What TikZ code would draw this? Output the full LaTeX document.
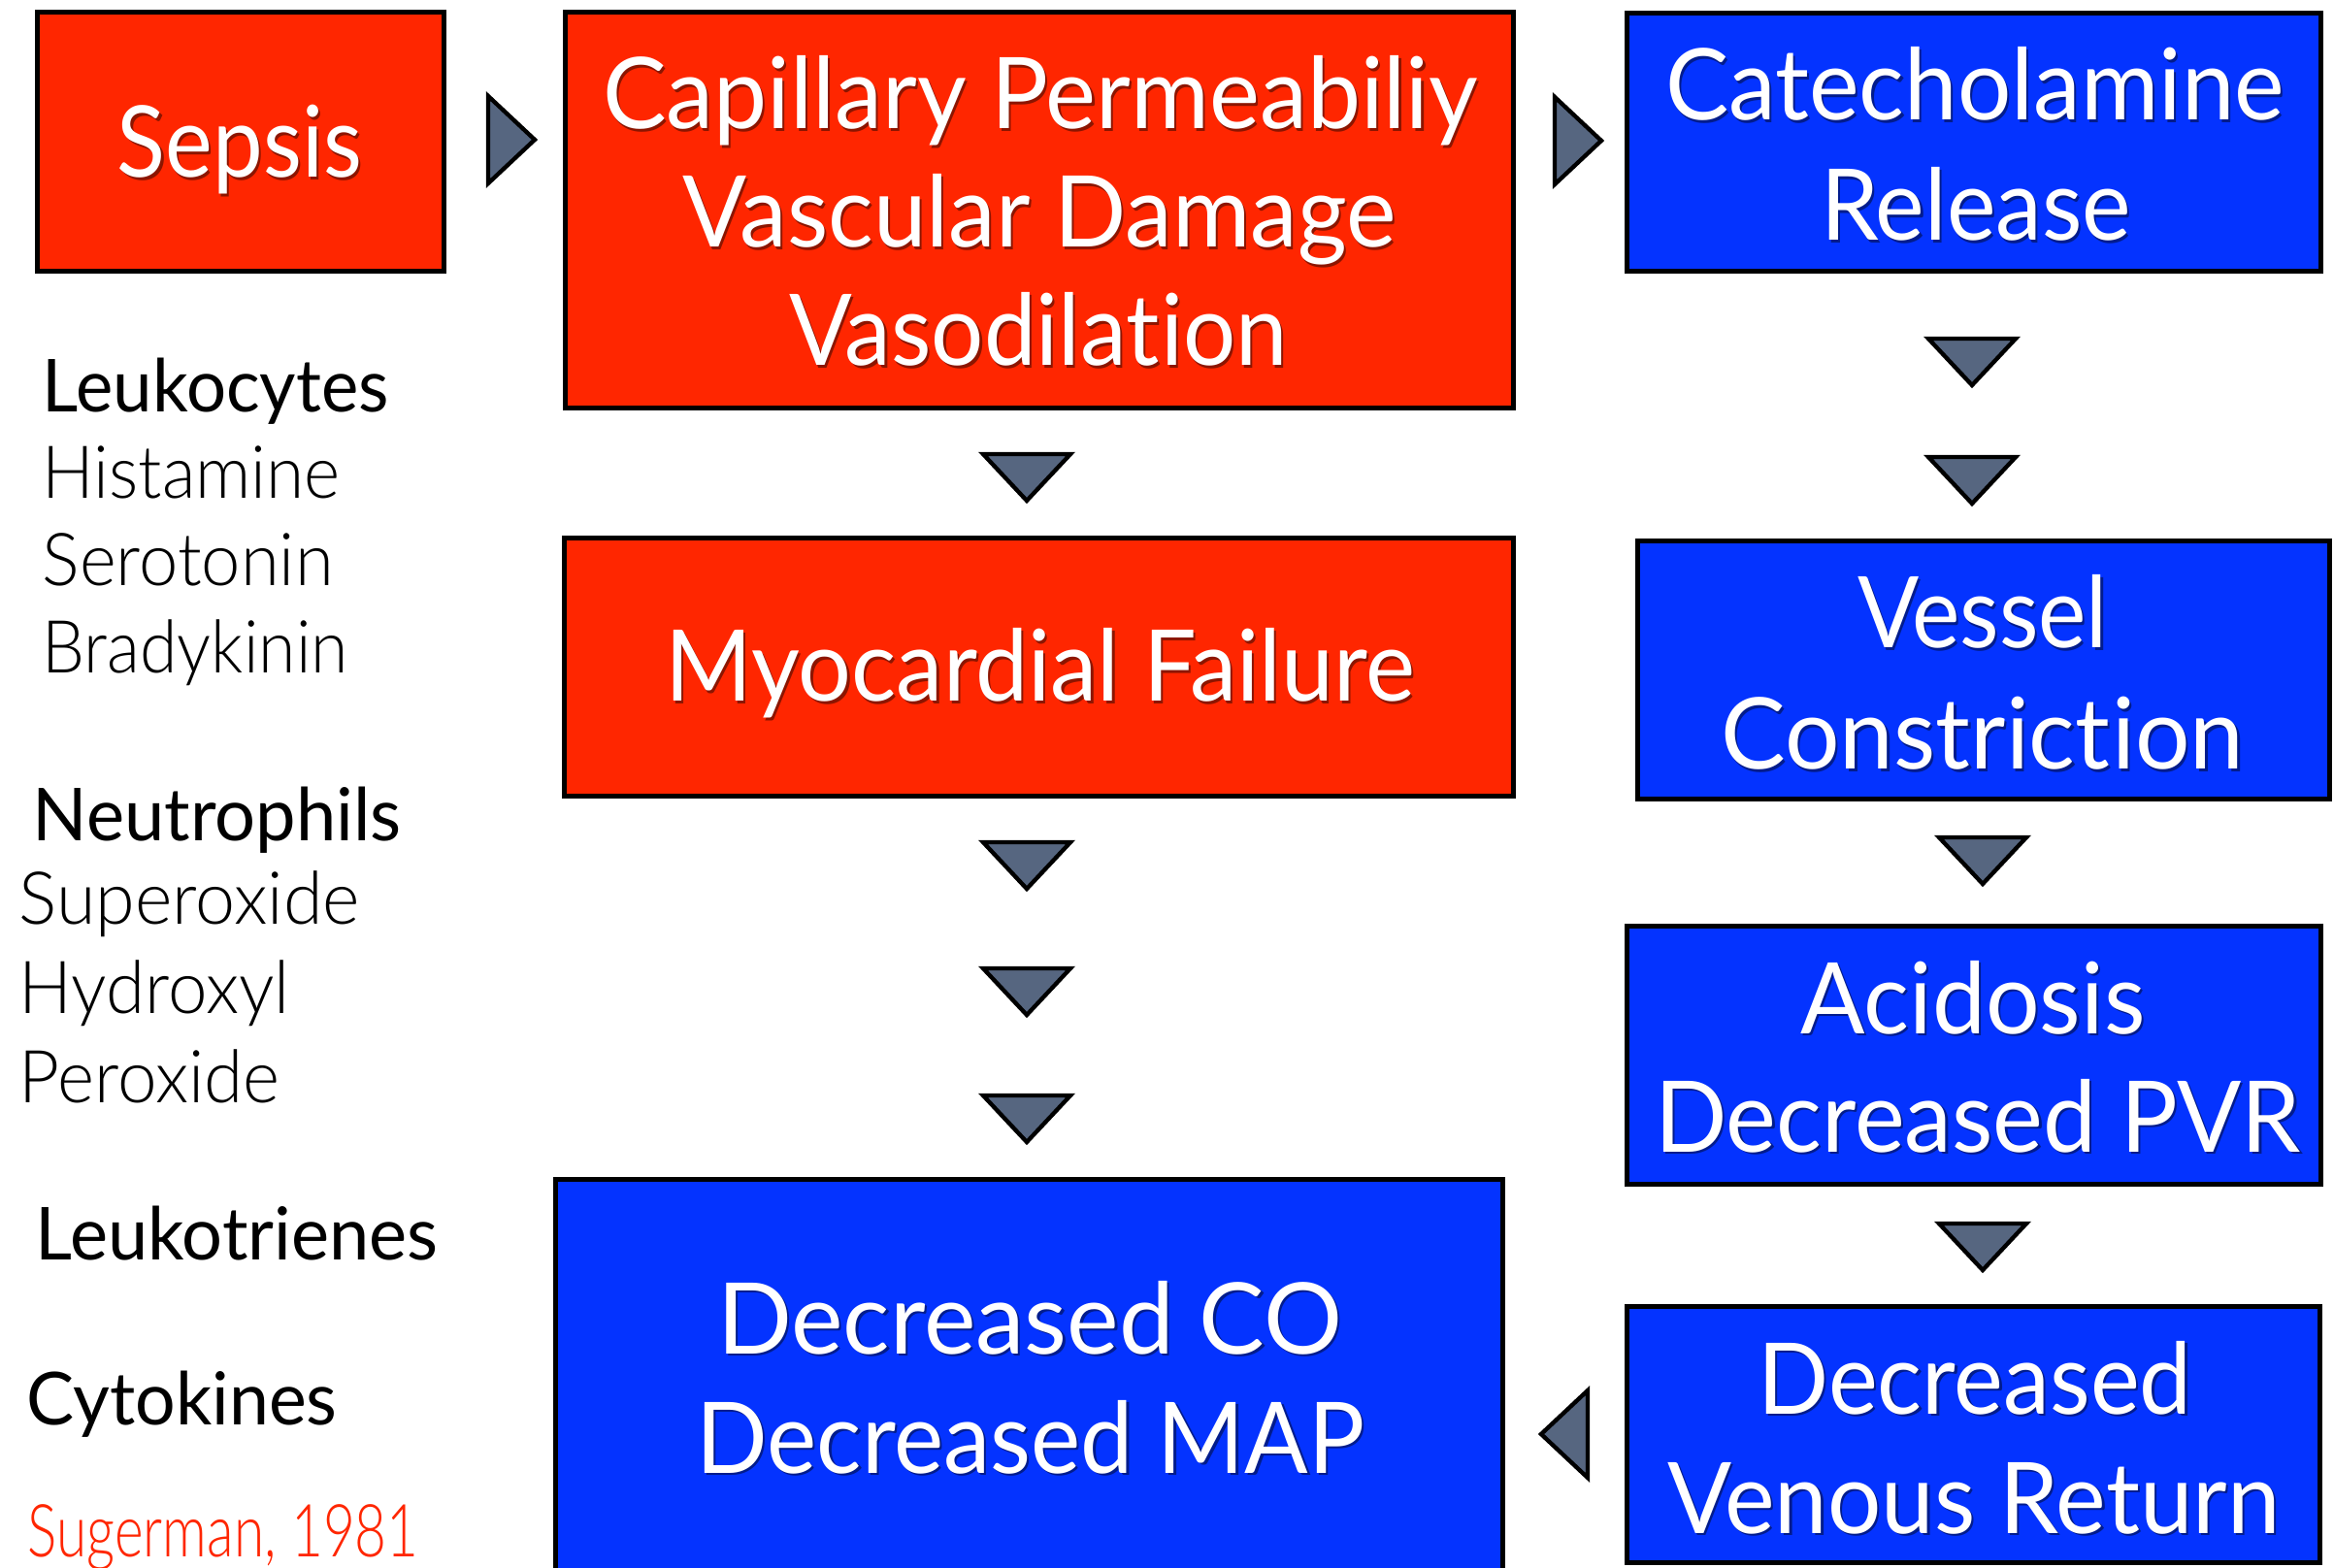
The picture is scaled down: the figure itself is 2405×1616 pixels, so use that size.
\documentclass[tikz,border=0pt]{standalone}
\usepackage{fontspec}
\usepackage{graphicx}
\usetikzlibrary{fit}
\setmainfont{Lato}[Ligatures=NoCommon, RawFeature={-calt}]
\IfFontExistsTF{Lato Light}{\newfontfamily\lightfont{Lato Light}[Ligatures=NoCommon, RawFeature={-calt}]}{\newfontfamily\lightfont{Lato}[Ligatures=NoCommon, RawFeature={-calt}]}

\definecolor{boxred}{RGB}{255,38,0}
\definecolor{boxblue}{RGB}{4,51,255}
\definecolor{arrowfill}{RGB}{86,102,128}
\colorlet{redshade}{boxred!55!black}
\colorlet{blueshade}{boxblue!55!black}

% one line of box text, set to a given width (in px, 1px = 0.3pt) with a soft drop shadow
\newcommand\fitline[3]{%
  \resizebox{\dimexpr #1pt*3/10\relax}{\height}{%
    \rlap{\kern0.7pt\raisebox{-0.7pt}{\textcolor{#2}{#3}}}#3}}
% one plain line of text set to a given width
\newcommand\fitplain[2]{\resizebox{\dimexpr #1pt*3/10\relax}{\height}{#2}}
% plain t-i pair, kept apart from the font's ligature
\newcommand\ti{t\kern0.02em i}

\tikzset{
  box/.style={draw=black, line width=1.5pt, inner sep=0pt, outer sep=0pt},
  redbox/.style={box, fill=boxred},
  bluebox/.style={box, fill=boxblue},
  bigtxt/.style={anchor=base, inner sep=0pt, text=white,
    font=\fontsize{30.6pt}{36pt}\selectfont},
  headtxt/.style={anchor=base west, inner sep=0pt, text=black,
    font=\fontsize{22.6pt}{27pt}\selectfont},
  listtxt/.style={anchor=base west, inner sep=0pt, text=black,
    font=\lightfont\fontsize{22.6pt}{27pt}\selectfont},
  arrowtri/.style={draw=black, line width=1.3pt, fill=arrowfill, line join=miter},
  pics/downtri/.style={code={\draw[arrowtri] (-45,-23) -- (45,-23) -- (0,25) -- cycle;}},
  pics/righttri/.style={code={\draw[arrowtri] (-23,-45) -- (25,0) -- (-23,45) -- cycle;}},
  pics/lefttri/.style={code={\draw[arrowtri] (23,-45) -- (-25,0) -- (23,45) -- cycle;}},
}

\begin{document}
\begin{tikzpicture}[x=0.3pt, y=-0.3pt]
\useasboundingbox (0,0) rectangle (2405,1616);
\clip (0,0) rectangle (2405,1616);

% boxes
\node[redbox,  fit={(38.5,12.5) (457.5,279.5)}]    (sepsis) {};
\node[redbox,  fit={(582.5,12.5) (1559.5,420.5)}]  (capillary) {};
\node[bluebox, fit={(1676.5,13.5) (2391.5,279.5)}] (catechol) {};
\node[redbox,  fit={(581.5,554.5) (1559.5,820.5)}] (myocard) {};
\node[bluebox, fit={(1687.5,557.5) (2400.5,823.5)}] (vessel) {};
\node[bluebox, fit={(1676.5,954.5) (2391.5,1220.5)}] (acidosis) {};
\node[bluebox, fit={(1676.5,1346.5) (2390.5,1610.5)}] (venous) {};
\node[bluebox, fit={(572.5,1215.5) (1548.5,1660)}] (decco) {};

% box texts
\node[bigtxt] (tSepsis) at (247,183) {\fitline{252}{redshade}{Sepsis}};
\node[bigtxt] (tCap1) at (1072,133) {\fitline{902}{redshade}{Capillary Permeabiliy}};
\node[bigtxt] (tCap2) at (1071,255) {\fitline{735}{redshade}{Vascular Damage}};
\node[bigtxt] (tCap3) at (1070,377) {\fitline{514}{redshade}{Vasodila\ti on}};
\node[bigtxt] (tCat1) at (2035,124) {\fitline{638}{blueshade}{Catecholamine}};
\node[bigtxt] (tCat2) at (2036,248) {\fitline{320}{blueshade}{Release}};
\node[bigtxt] (tMyo) at (1072,723) {\fitline{773}{redshade}{Myocardial Failure}};
\node[bigtxt] (tVes1) at (2043,668) {\fitline{258}{blueshade}{Vessel}};
\node[bigtxt] (tVes2) at (2043,793) {\fitline{539}{blueshade}{Constric\ti on}};
\node[bigtxt] (tAci1) at (2033,1065) {\fitline{355}{blueshade}{Acidosis}};
\node[bigtxt] (tAci2) at (2038,1187) {\fitline{666}{blueshade}{Decreased PVR}};
\node[bigtxt] (tCO1) at (1061,1395) {\fitline{644}{blueshade}{Decreased CO}};
\node[bigtxt] (tCO2) at (1062,1518) {\fitline{689}{blueshade}{Decreased MAP}};
\node[bigtxt] (tVen1) at (2035,1457) {\fitline{447}{blueshade}{Decreased}};
\node[bigtxt] (tVen2) at (2034,1580) {\fitline{631}{blueshade}{Venous Return}};

% mediator list
\node[headtxt] (leuko) at (43,425)  {\fitplain{357}{Leukocytes}};
\node[listtxt] (hist)  at (43,514)  {\fitplain{307}{Histamine}};
\node[listtxt] (sero)  at (43,604)  {\fitplain{300}{Serotonin}};
\node[listtxt] (brady) at (43,694)  {\fitplain{315}{Bradykinin}};
\node[headtxt] (neutro) at (33,867) {\fitplain{380}{Neutrophils}};
\node[listtxt] (superox) at (19,953) {\fitplain{351}{Superoxide}};
\node[listtxt] (hydrox) at (19,1044) {\fitplain{279}{Hydroxyl}};
\node[listtxt] (perox) at (19,1136) {\fitplain{269}{Peroxide}};
\node[headtxt] (leukotr) at (36,1298) {\fitplain{415}{Leukotrienes}};
\node[headtxt] (cyto) at (27,1468) {\fitplain{320}{Cytokines}};
\node[listtxt, text=boxred] (cite) at (28,1604) {\fitplain{403}{Sugerman, 1981}};

% arrow heads between the steps
\pic (a1) at (526,144)   {righttri};
\pic (a2) at (1625,145)  {righttri};
\pic (a3) at (2032,372)  {downtri};
\pic (a4) at (2032,494)  {downtri};
\pic (a5) at (1058,491)  {downtri};
\pic (a6) at (2043,886)  {downtri};
\pic (a7) at (1058,891)  {downtri};
\pic (a8) at (1058,1021) {downtri};
\pic (a9) at (1058,1152) {downtri};
\pic (a10) at (2043,1284) {downtri};
\pic (a11) at (1613,1478) {lefttri};
\end{tikzpicture}
\end{document}
